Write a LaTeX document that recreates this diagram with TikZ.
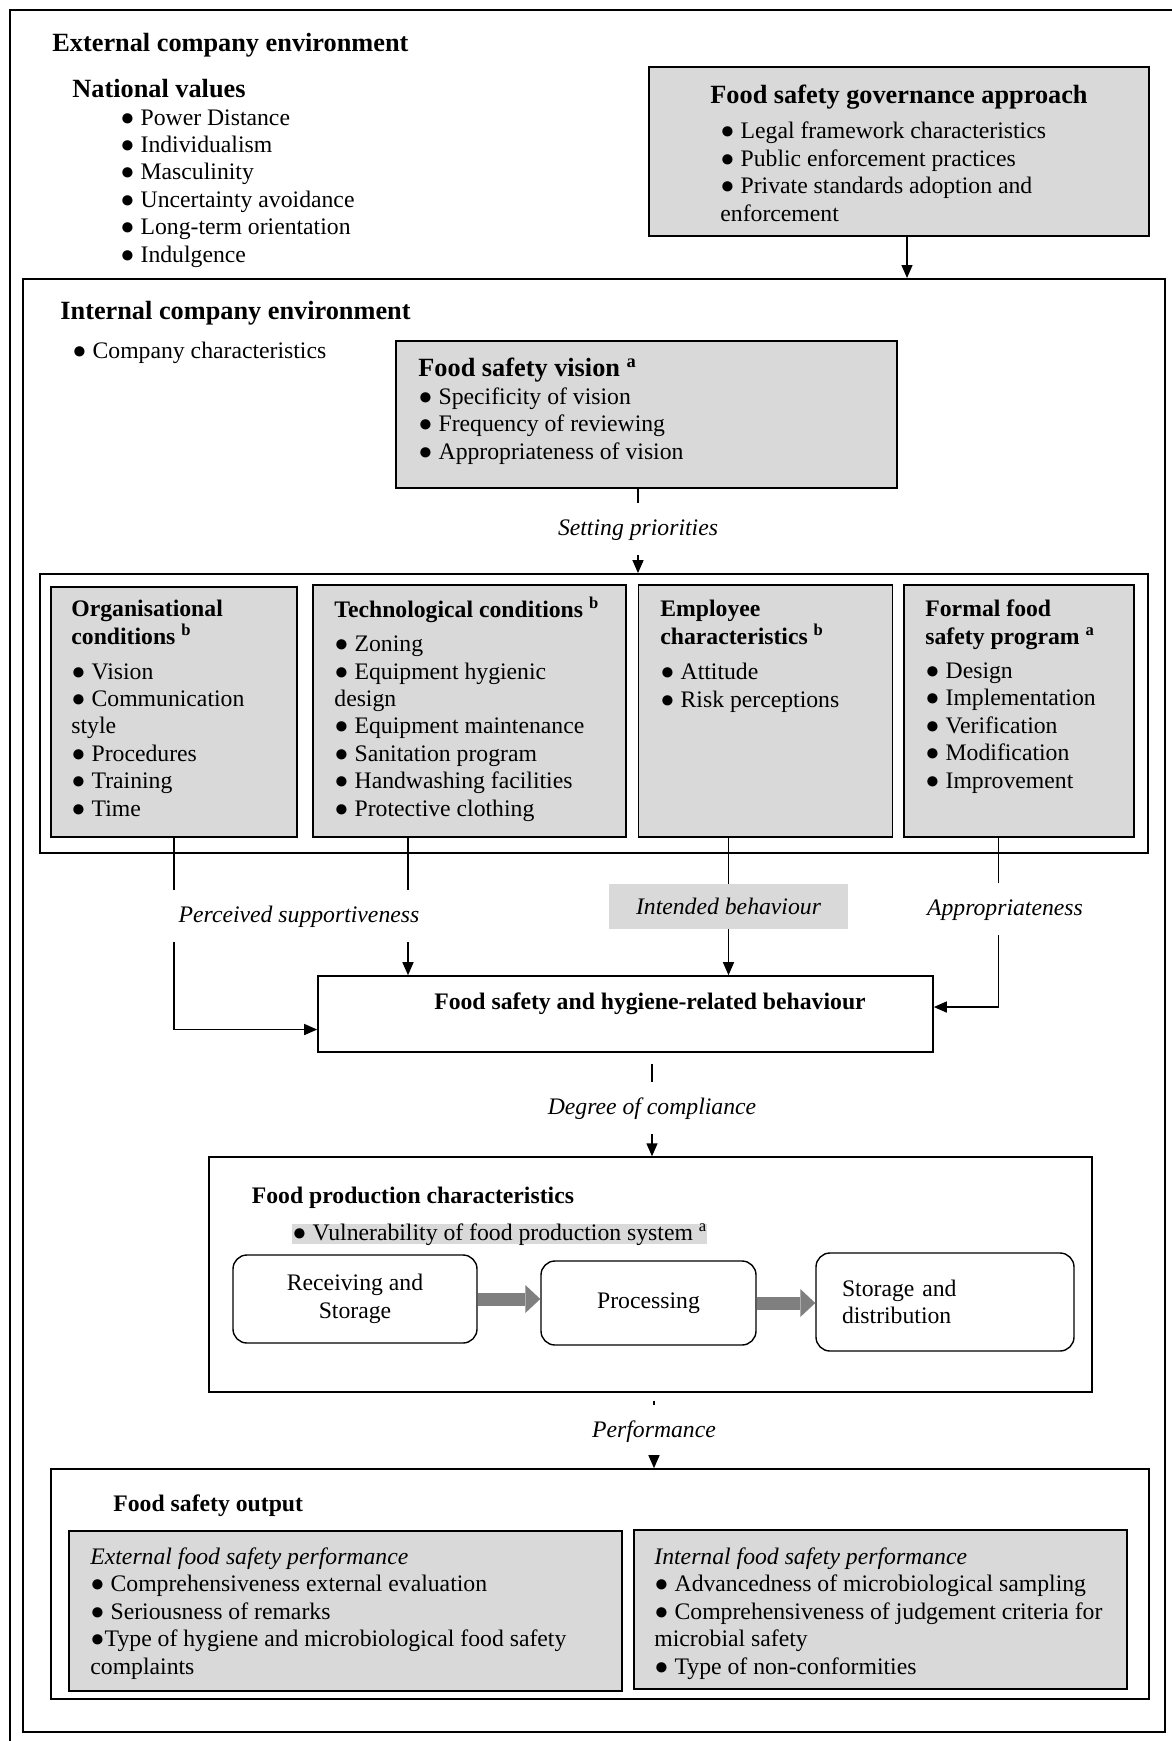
\documentclass[tikz,border=0pt]{standalone}
\usepackage{fontspec}
\setmainfont{Liberation Serif}
\usetikzlibrary{arrows.meta,fit,calc}
\definecolor{boxgray}{HTML}{D9D9D9}
\definecolor{arrgray}{HTML}{7F7F7F}
\newcommand{\bodyfont}{\fontsize{11.85pt}{13.7pt}\selectfont}
\newcommand{\headfont}{\fontsize{13.15pt}{15pt}\selectfont\bfseries}
\newcommand{\bul}{●}

\begin{document}
\begin{tikzpicture}[x=0.5pt,y=-0.5pt,
    frame/.style={draw,line width=1pt,inner sep=0pt},
    greybox/.style={draw,line width=0.8pt,fill=boxgray,inner sep=0pt},
    whitebox/.style={draw,line width=0.8pt,inner sep=0pt},
    txt/.style={font=\bodyfont,align=left,anchor=base west,inner sep=0pt},
    head/.style={font=\headfont,align=left,anchor=base west,inner sep=0pt},
    boxhead/.style={txt,font=\bodyfont\bfseries},
    lbl/.style={font=\bodyfont\itshape,inner xsep=3pt,inner ysep=7.5pt,text height=8.5pt,text depth=2.5pt},
    conn/.style={line width=0.7pt},
    arr/.style={conn,-{Triangle[length=6.5pt,width=5.5pt]}},
    stepbox/.style={draw,line width=0.7pt,rounded corners=7pt,inner sep=0pt,font=\bodyfont,align=center},
    blockarr/.style={draw=arrgray,line width=6.5pt,-{Triangle[length=7.5pt,width=14pt,line width=0pt]}}]
    % page
    \useasboundingbox (0,0) rectangle (1172,1741);
    \clip (0,0) rectangle (1172,1741);
    % outer frame, runs off the page on the right and at the bottom
    \draw[line width=1pt] (10,10) rectangle (1185,1760);
    % external environment (list nodes sit on the baseline of their last line)
    \node[head] (exthd) at (52,51) {External company environment};
    \node[head] (natvhd) at (72,97) {National values};
    \node[txt] (natvlist) at (120,262) {\bul{} Power Distance\\\bul{} Individualism\\\bul{} Masculinity\\\bul{} Uncertainty avoidance\\\bul{} Long-term orientation\\\bul{} Indulgence};
    % governance box
    \node[greybox,fit={(649,67) (1149,236)}] (gov) {};
    \node[head,anchor=base] (govhd) at (899,103) {Food safety governance approach};
    \node[txt] (govlist) at (720,221) {\bul{} Legal framework characteristics\\\bul{} Public enforcement practices\\\bul{} Private standards adoption and\\enforcement};
    % internal environment
    \node[frame,fit={(23,279) (1165,1732)}] (internal) {};
    \draw[arr] ([xshift=4pt]gov.south) -- ([xshift=4pt]gov.south |- internal.north);
    \node[head] (inthd) at (60,319) {Internal company environment};
    \node[txt] (compch) at (72,358) {\bul{} Company characteristics};
    % vision
    \node[greybox,fit={(396,341) (897,488)}] (vision) {};
    \node[head] (visionhd) at (418,376) {Food safety vision \textsuperscript{a}};
    \node[txt] (visionlist) at (418,459) {\bul{} Specificity of vision\\\bul{} Frequency of reviewing\\\bul{} Appropriateness of vision};
    % conditions group
    \node[frame,line width=0.9pt,fit={(40,574) (1148,853)}] (group) {};
    \node[lbl] (setp) at (638,529) {Setting priorities};
    \draw[conn] (vision.south -| setp) -- (setp.north);
    \draw[arr] (setp.south) -- (group.north -| setp);
    \node[greybox,fit={(51,587) (297,837)}] (org) {};
    \node[greybox,fit={(313,585) (626,837)}] (tech) {};
    \node[greybox,fit={(638.5,585) (892.5,837)}] (emp) {};
    \node[greybox,fit={(904,585) (1134,837)}] (formal) {};
    \node[boxhead] (orghd) at (71,644) {Organisational\\conditions \textsuperscript{b}};
    \node[txt] (orglist) at (71,816) {\bul{} Vision\\\bul{} Communication\\style\\\bul{} Procedures\\\bul{} Training\\\bul{} Time};
    \node[boxhead] (techhd) at (334,617) {Technological conditions \textsuperscript{b}};
    \node[txt] (techlist) at (334,816) {\bul{} Zoning\\\bul{} Equipment hygienic\\design\\\bul{} Equipment maintenance\\\bul{} Sanitation program\\\bul{} Handwashing facilities\\\bul{} Protective clothing};
    \node[boxhead] (emphd) at (660,644) {Employee\\characteristics \textsuperscript{b}};
    \node[txt] (emplist) at (660,707) {\bul{} Attitude\\\bul{} Risk perceptions};
    \node[boxhead] (formalhd) at (925,644) {Formal food\\safety program \textsuperscript{a}};
    \node[txt] (formallist) at (925,788) {\bul{} Design\\\bul{} Implementation\\\bul{} Verification\\\bul{} Modification\\\bul{} Improvement};
    % behaviour
    \node[whitebox,fit={(318,976) (933,1052)}] (behav) {};
    \node[boxhead,anchor=base] (behavtxt) at (650,1009) {Food safety and hygiene-related behaviour};
    \node[lbl] (percv) at (299,916) {Perceived supportiveness};
    \node[fill=boxgray,font=\bodyfont\itshape,inner sep=0pt,minimum width=119.5pt,minimum height=22.5pt] (intended) at (728.5,906.5) {Intended behaviour};
    \node[lbl] (approp) at (1005,909) {Appropriateness};
    \coordinate (techout) at ([xshift=-30.75pt]tech.south);
    \coordinate (formalout) at ([xshift=-10.25pt]formal.south);
    \draw[conn] (org.south) -- (org.south |- percv.north);
    \draw[arr] (org.south |- percv.south) |- ($(behav.north west)!0.7!(behav.south west)$);
    \draw[conn] (techout) -- (techout |- percv.north);
    \draw[arr] (techout |- percv.south) -- (techout |- behav.north);
    \draw[conn] (emp.south -| intended) -- (intended.north);
    \draw[arr] (intended.south) -- (intended.south |- behav.north);
    \draw[conn] (formalout) -- (formalout |- approp.north);
    \draw[arr] (formalout |- approp.south) |- ($(behav.north east)!0.41!(behav.south east)$);
    % food production
    \node[whitebox,line width=0.7pt,fit={(209,1157) (1092,1392)}] (prod) {};
    \node[lbl] (compl) at (652,1108) {Degree of compliance};
    \draw[conn,shorten <=5.5pt] (behav.south -| compl) -- (compl.north);
    \draw[arr] (compl.south) -- (compl.south |- prod.north);
    \node[boxhead] (prodhd) at (251.5,1203) {Food production characteristics};
    \node[txt,fill=boxgray,text height=8pt,text depth=2pt] (vuln) at (292,1240) {\bul{} Vulnerability of food production system \textsuperscript{a}};
    \node[stepbox,minimum width=122pt,minimum height=44pt] (recv) at (355,1299) {Receiving and\\Storage};
    \node[stepbox,minimum width=107.5pt,minimum height=42pt] (proc) at (648.5,1303) {Processing};
    \node[stepbox,align=left,text width=103pt,inner xsep=13pt,minimum height=49pt] (stor) at (945,1302) {Storage and\\distribution};
    \draw[blockarr] (recv.east) -- (recv.east -| proc.west);
    \draw[blockarr] (proc.east) -- (proc.east -| stor.west);
    % output
    \node[whitebox,fit={(51,1469) (1149,1699)}] (output) {};
    \node[lbl] (perf) at (654,1431) {Performance};
    \draw[conn,shorten <=4pt] (prod.south -| perf) -- (perf.north);
    \draw[arr] (perf.south) -- (perf.south |- output.north);
    \node[boxhead] (outhd) at (113,1511) {Food safety output};
    \node[greybox,fit={(69,1531) (622,1691)}] (extperf) {};
    \node[greybox,fit={(634,1530) (1127,1689)}] (intperf) {};
    \node[txt] (extlist) at (90,1674) {\textit{External food safety performance}\\\bul{} Comprehensiveness external evaluation\\\bul{} Seriousness of remarks\\\bul{}Type of hygiene and microbiological food safety\\complaints};
    \node[txt] (intlist) at (654,1674) {\textit{Internal food safety performance}\\\bul{} Advancedness of microbiological sampling\\\bul{} Comprehensiveness of judgement criteria for\\microbial safety\\\bul{} Type of non-conformities};
\end{tikzpicture}
\end{document}
